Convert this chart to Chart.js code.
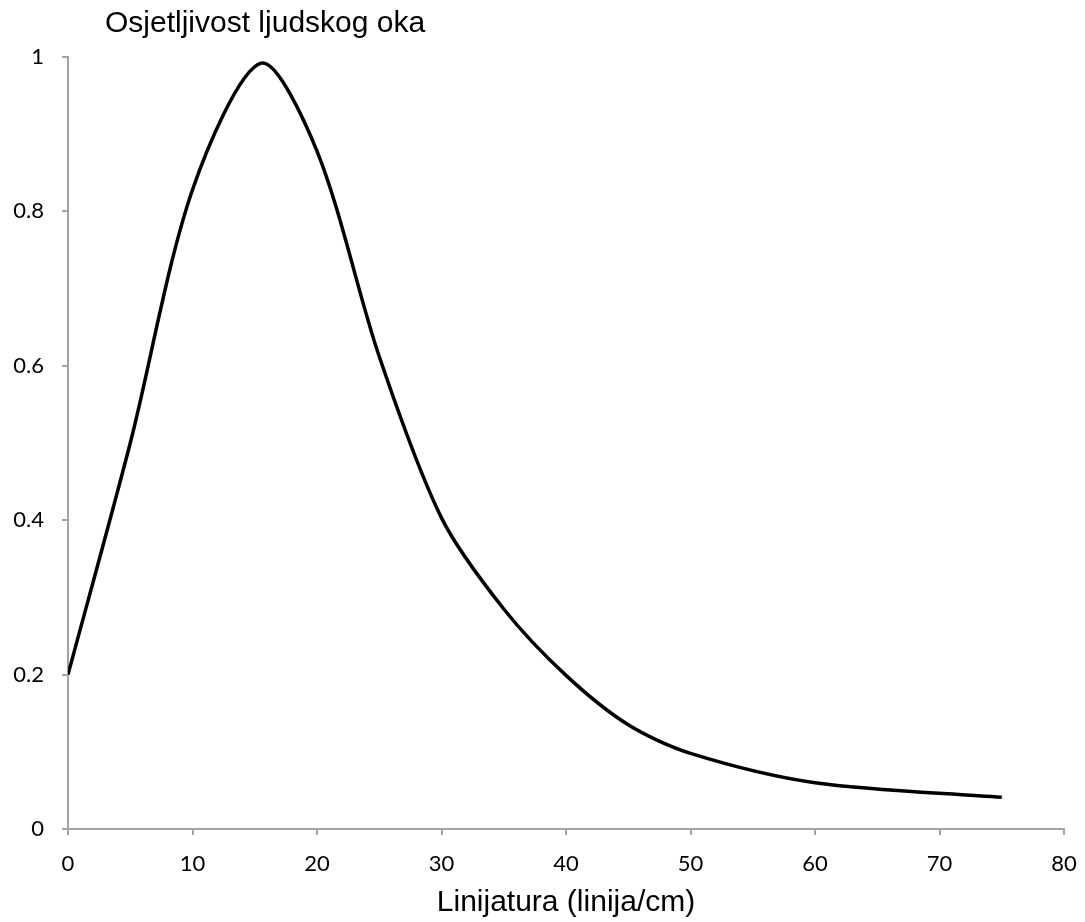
<!DOCTYPE html>
<html>
<head>
<meta charset="utf-8">
<script src="https://cdn.jsdelivr.net/npm/chart.js@4"></script>
<style>
  html, body { margin: 0; padding: 0; background: #fff; }
  #wrap { width: 1085px; height: 922px; }
</style>
</head>
<body>
<div id="wrap"><canvas id="c" width="1085" height="922"></canvas></div>
<script>
// ocitano sa slike: linijatura (linija/cm) -> osjetljivost
const linijatura = [0, 5, 10, 15.5, 20, 25, 30, 35, 40, 45, 50, 60, 75];
const osjetljivost = [0.2, 0.5, 0.828, 0.992, 0.878, 0.612, 0.403, 0.285, 0.199, 0.135, 0.098, 0.06, 0.041];

const naslov = 'Osjetljivost ljudskog oka';
const naslovX = 'Linijatura (linija/cm)';

const axisGray = '#a3a3a3';
const tickFont = { family: 'Lato, "Open Sans", sans-serif', size: 22 };

// naslov gore lijevo (u Excelu je to naslov y osi, vodoravno)
const topTitle = {
    id: 'topTitle',
    afterDraw(chart) {
        const ctx = chart.ctx;
        ctx.save();
        ctx.fillStyle = '#000';
        ctx.font = '30px "Liberation Sans", Arial, sans-serif';
        ctx.textAlign = 'left';
        ctx.textBaseline = 'middle';
        ctx.fillText(naslov, 105, 24);
        ctx.restore();
    }
};

const points = linijatura.map((x, i) => ({ x: x, y: osjetljivost[i] }));

new Chart(document.getElementById('c'), {
    type: 'scatter',
    data: {
        datasets: [{
            data: points,
            showLine: true,
            borderColor: '#000',
            borderWidth: 3.5,
            pointRadius: 0,
            tension: 0.3,
            fill: false
        }]
    },
    options: {
        responsive: false,
        animation: false,
        layout: { padding: { top: 57, right: 21, left: 0, bottom: 0 } },
        scales: {
            x: {
                type: 'linear',
                min: 0,
                max: 80,
                ticks: { stepSize: 10, color: '#000', font: tickFont, padding: 16, maxRotation: 0 },
                grid: { drawOnChartArea: false, color: axisGray, lineWidth: 2, tickLength: 6 },
                border: { color: axisGray, width: 2 },
                title: {
                    display: true,
                    text: naslovX,
                    color: '#000',
                    font: { family: '"Liberation Sans", Arial, sans-serif', size: 30 },
                    padding: { top: 0, bottom: 1 }
                },
                afterFit(scale) {
                    scale.height = 93;
                    // rub grafa odreduje layout padding, ne sirina oznaka
                    scale.paddingLeft = 0;
                    scale.paddingRight = 0;
                }
            },
            y: {
                type: 'linear',
                min: 0,
                max: 1,
                ticks: {
                    stepSize: 0.2,
                    color: '#000',
                    font: tickFont,
                    padding: 18,
                    callback: (v) => String(Math.round(v * 10) / 10)
                },
                grid: { drawOnChartArea: false, color: axisGray, lineWidth: 2, tickLength: 6 },
                border: { color: axisGray, width: 2 },
                afterFit(scale) { scale.width = 68; }
            }
        },
        plugins: {
            legend: { display: false },
            tooltip: { enabled: false },
            title: { display: false }
        }
    },
    plugins: [topTitle]
});
</script>
</body>
</html>
